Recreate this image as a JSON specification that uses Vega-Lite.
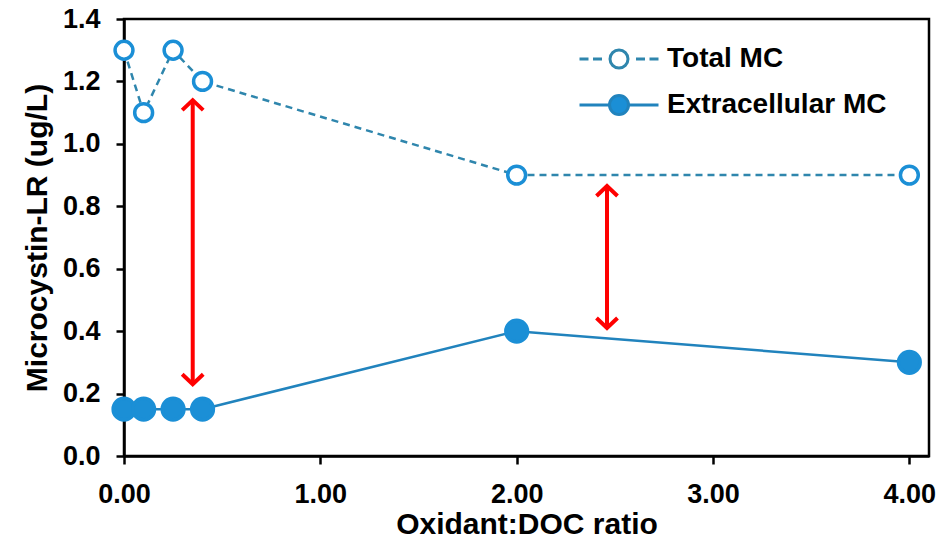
{
  "$schema": "https://vega.github.io/schema/vega-lite/v6.json",
  "width": 805,
  "height": 437,
  "autosize": "none",
  "padding": {"left": 124, "top": 19, "right": 10, "bottom": 83},
  "config": {
    "font": "Liberation Sans",
    "view": {"stroke": "black", "strokeWidth": 2.5},
    "axis": {
      "grid": false,
      "domainColor": "black",
      "domainWidth": 2.5,
      "tickColor": "black",
      "tickWidth": 2.5,
      "tickSize": 8,
      "labelFont": "Liberation Sans",
      "labelFontSize": 27,
      "labelFontWeight": "bold",
      "labelColor": "black",
      "titleFont": "Liberation Sans",
      "titleFontSize": 30,
      "titleFontWeight": "bold",
      "titleColor": "black"
    },
    "legend": {
      "orient": "none",
      "legendX": 481,
      "legendY": 26,
      "padding": 0,
      "labelFont": "Liberation Sans",
      "labelFontSize": 28,
      "labelFontWeight": "bold",
      "labelColor": "black",
      "labelLimit": 400,
      "labelOffset": 34,
      "rowPadding": 15
    }
  },
  "datasets": {
    "series": [
      {"ratio": 0, "mc": 1.3, "type": "Total MC"},
      {"ratio": 0.1, "mc": 1.1, "type": "Total MC"},
      {"ratio": 0.25, "mc": 1.3, "type": "Total MC"},
      {"ratio": 0.4, "mc": 1.2, "type": "Total MC"},
      {"ratio": 2, "mc": 0.9, "type": "Total MC"},
      {"ratio": 4, "mc": 0.9, "type": "Total MC"},
      {"ratio": 0, "mc": 0.15, "type": "Extracellular MC"},
      {"ratio": 0.1, "mc": 0.15, "type": "Extracellular MC"},
      {"ratio": 0.25, "mc": 0.15, "type": "Extracellular MC"},
      {"ratio": 0.4, "mc": 0.15, "type": "Extracellular MC"},
      {"ratio": 2, "mc": 0.4, "type": "Extracellular MC"},
      {"ratio": 4, "mc": 0.3, "type": "Extracellular MC"}
    ],
    "arrows": [
      {"ratio": 0.35, "lo": 0.23, "hi": 1.14},
      {"ratio": 2.46, "lo": 0.41, "hi": 0.865}
    ]
  },
  "layer": [
    {
      "data": {"name": "series"},
      "transform": [{"filter": "datum.type === 'Total MC'"}],
      "mark": {"type": "line", "strokeWidth": 2.5, "strokeDash": [7, 5]},
      "encoding": {
        "x": {
          "field": "ratio", "type": "quantitative",
          "scale": {"domain": [0, 4.1], "nice": false, "zero": false},
          "axis": {"values": [0, 1, 2, 3, 4], "format": ".2f", "labelPadding": 17, "titlePadding": 2, "labelFlush": false},
          "title": "Oxidant:DOC ratio"
        },
        "y": {
          "field": "mc", "type": "quantitative",
          "scale": {"domain": [0, 1.4], "nice": false},
          "axis": {"values": [0, 0.2, 0.4, 0.6, 0.8, 1.0, 1.2, 1.4], "format": ".1f", "labelPadding": 16, "titlePadding": 10, "labelFlush": false},
          "title": "Microcystin-LR (ug/L)"
        },
        "color": {
          "field": "type", "type": "nominal",
          "scale": {"domain": ["Total MC", "Extracellular MC"], "range": ["#2f86ad", "#2183bd"]},
          "legend": {
            "title": null,
            "symbolSize": 400,
            "values": ["Total MC", "Extracellular MC"],
            "encode": {
              "symbols": {
                "update": {
                  "shape": {"signal": "datum.value === 'Total MC' ? 'M-3.95,0H-3.05M-2.6,0H-1.7M1.7,0H2.6M3.05,0H3.95M-0.9,0A0.9,0.9 0 1,0 0.9,0A0.9,0.9 0 1,0 -0.9,0' : 'M-3.95,0H-0.9M0.9,0H3.95M-0.95,0A0.95,0.95 0 1,0 0.95,0A0.95,0.95 0 1,0 -0.95,0'"},
                  "fill": {"signal": "datum.value === 'Total MC' ? '#ffffff' : '#1b8fd6'"},
                  "stroke": {"value": "#1b8fd6"},
                  "strokeWidth": {"value": 3},
                  "size": {"value": 400},
                  "opacity": {"value": 1},
                  "fillOpacity": {"value": 1},
                  "strokeOpacity": {"value": 1}
                }
              }
            }
          }
        }
      }
    },
    {
      "data": {"name": "series"},
      "transform": [{"filter": "datum.type === 'Extracellular MC'"}],
      "mark": {"type": "line", "strokeWidth": 2.5},
      "encoding": {
        "x": {"field": "ratio", "type": "quantitative", "title": "Oxidant:DOC ratio"},
        "y": {"field": "mc", "type": "quantitative", "title": "Microcystin-LR (ug/L)"},
        "color": {"field": "type", "type": "nominal"}
      }
    },
    {
      "data": {"name": "series"},
      "mark": {"type": "point", "filled": true, "stroke": "#1b8fd6", "strokeWidth": 3.5, "opacity": 1},
      "encoding": {
        "x": {"field": "ratio", "type": "quantitative", "title": "Oxidant:DOC ratio"},
        "y": {"field": "mc", "type": "quantitative", "title": "Microcystin-LR (ug/L)"},
        "fill": {
          "field": "type", "type": "nominal",
          "scale": {"domain": ["Total MC", "Extracellular MC"], "range": ["#ffffff", "#1b8fd6"]},
          "legend": null
        },
        "size": {
          "condition": {"test": "datum.type === 'Total MC'", "value": 320},
          "value": 470
        }
      }
    },
    {
      "data": {"name": "arrows"},
      "mark": {"type": "rule", "color": "#ff0000", "strokeWidth": 4},
      "encoding": {
        "x": {"field": "ratio", "type": "quantitative", "title": "Oxidant:DOC ratio"},
        "y": {"field": "lo", "type": "quantitative", "title": "Microcystin-LR (ug/L)"},
        "y2": {"field": "hi"}
      }
    },
    {
      "data": {"name": "arrows"},
      "mark": {"type": "point", "shape": "M-1,0.95L0,0L1,0.95", "filled": false, "stroke": "#ff0000", "strokeWidth": 4, "size": 441, "opacity": 1},
      "encoding": {
        "x": {"field": "ratio", "type": "quantitative", "title": "Oxidant:DOC ratio"},
        "y": {"field": "hi", "type": "quantitative", "title": "Microcystin-LR (ug/L)"}
      }
    },
    {
      "data": {"name": "arrows"},
      "mark": {"type": "point", "shape": "M-1,-0.95L0,0L1,-0.95", "filled": false, "stroke": "#ff0000", "strokeWidth": 4, "size": 441, "opacity": 1},
      "encoding": {
        "x": {"field": "ratio", "type": "quantitative", "title": "Oxidant:DOC ratio"},
        "y": {"field": "lo", "type": "quantitative", "title": "Microcystin-LR (ug/L)"}
      }
    }
  ]
}
